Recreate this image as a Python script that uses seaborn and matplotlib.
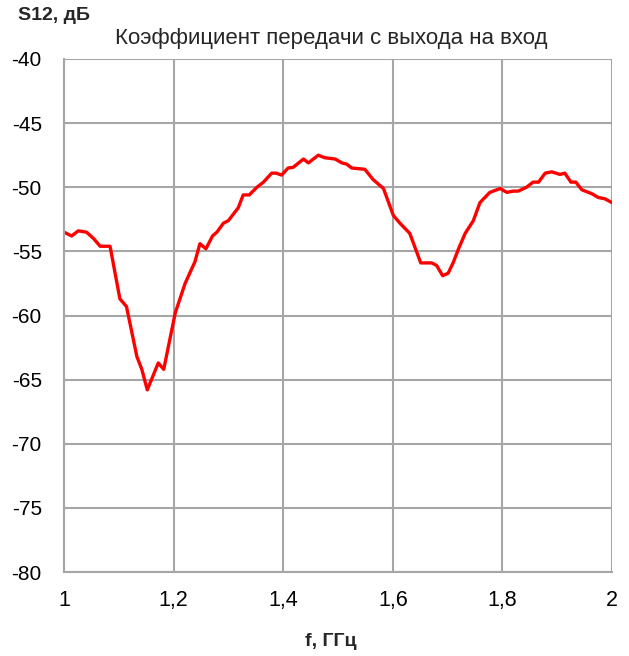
import pandas as pd
import seaborn as sns
import matplotlib.pyplot as plt
from matplotlib.ticker import FuncFormatter, MultipleLocator

# Data
freq = [1.000, 1.014, 1.026, 1.041, 1.054, 1.066, 1.084, 1.102, 1.114, 1.133,
        1.142, 1.152, 1.172, 1.182, 1.203, 1.221, 1.239, 1.248, 1.259, 1.271,
        1.279, 1.291, 1.300, 1.318, 1.327, 1.338, 1.352, 1.364, 1.379, 1.387,
        1.397, 1.409, 1.418, 1.437, 1.446, 1.464, 1.476, 1.495, 1.507, 1.516,
        1.525, 1.549, 1.564, 1.583, 1.601, 1.613, 1.631, 1.651, 1.671, 1.680,
        1.691, 1.701, 1.710, 1.720, 1.732, 1.747, 1.759, 1.777, 1.796, 1.808,
        1.820, 1.829, 1.844, 1.856, 1.866, 1.878, 1.890, 1.905, 1.914, 1.925,
        1.934, 1.945, 1.963, 1.975, 1.987, 2.000]
s12 = [-53.5, -53.8, -53.4, -53.5, -54.0, -54.6, -54.6, -58.7, -59.3, -63.2,
       -64.2, -65.8, -63.7, -64.2, -59.8, -57.5, -55.8, -54.4, -54.8, -53.8,
       -53.5, -52.8, -52.6, -51.6, -50.6, -50.6, -50.0, -49.6, -48.9, -48.9,
       -49.05, -48.5, -48.45, -47.8, -48.1, -47.5, -47.7, -47.8, -48.1, -48.2,
       -48.5, -48.6, -49.4, -50.1, -52.2, -52.8, -53.6, -55.9, -55.9, -56.1,
       -56.9, -56.7, -55.9, -54.8, -53.6, -52.6, -51.2, -50.4, -50.1, -50.4,
       -50.3, -50.3, -50.0, -49.6, -49.6, -48.9, -48.8, -49.0, -48.9, -49.6,
       -49.6, -50.2, -50.5, -50.8, -50.9, -51.2]

data = pd.DataFrame({'f': freq, 's12': s12})

sns.set_style("white")
plt.rcParams['font.family'] = ['Liberation Sans', 'DejaVu Sans']

fig = plt.figure(figsize=(6.29, 6.56), dpi=100)
ax = fig.add_axes([64 / 629, 1 - 572 / 656, 548 / 629, 513 / 656])

sns.lineplot(x='f', y='s12', data=data, ax=ax, color='#ff0000', linewidth=2.4)

ax.set_xlim(1, 2)
ax.set_ylim(-80, -40)
ax.xaxis.set_major_locator(MultipleLocator(0.2))
ax.yaxis.set_major_locator(MultipleLocator(5))
ax.xaxis.set_major_formatter(FuncFormatter(lambda v, p: f'{v:g}'.replace('.', ',')))
ax.yaxis.set_major_formatter(FuncFormatter(lambda v, p: f'{v:g}'))
ax.grid(True, color='#a6a6a6', linewidth=1.5)
ax.set_axisbelow(True)
for side in ['top', 'right']:
    ax.spines[side].set_visible(False)
for side in ['left', 'bottom']:
    ax.spines[side].set_color('#a6a6a6')
    ax.spines[side].set_linewidth(1.5)
ax.tick_params(axis='both', direction='out', length=4,
               width=1.2, color='#a6a6a6', labelcolor='black')
ax.tick_params(axis='y', pad=12, labelsize=15)
ax.tick_params(axis='x', pad=9, labelsize=15.5)
ax.set_xlabel('')
ax.set_ylabel('')

fig.text(18 / 629, 1 - 16 / 656, 'S12, дБ', fontsize=14, fontweight='bold', va='center')
fig.text(331 / 629, 1 - 44 / 656, 'Коэффициент передачи с выхода на вход',
         fontsize=16, ha='center', va='baseline')
fig.text(331 / 629, 1 - 641 / 656, 'f, ГГц', fontsize=14, fontweight='bold',
         ha='center', va='center')

fig.savefig('out.png', dpi=100)
